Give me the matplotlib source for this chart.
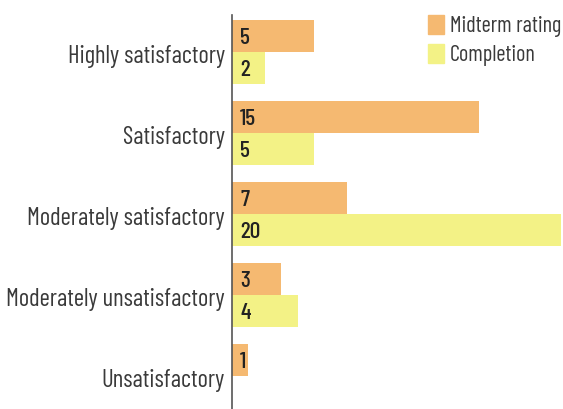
import matplotlib
matplotlib.use("Agg")
import matplotlib.pyplot as plt
from matplotlib.patches import Patch
import numpy as np

categories = ["Highly satisfactory", "Satisfactory", "Moderately satisfactory",
              "Moderately unsatisfactory", "Unsatisfactory"]
midterm = [5, 15, 7, 3, 1]
completion = [2, 5, 20, 4, 0]
series_names = ["Midterm rating", "Completion"]

plt.rcParams['font.family'] = ['Barlow Condensed', 'DejaVu Sans']

c_mid = "#F5B971"
c_comp = "#F3F286"

fig = plt.figure(figsize=(5.63, 4.09), dpi=100)
ax = fig.add_axes([232/563, 0.0, (561-232)/563, (409-15)/409])

y = np.arange(len(categories))
h = 0.395
ax.barh(y - h/2, midterm, height=h, color=c_mid, label=series_names[0])
ax.barh(y + h/2, completion, height=h, color=c_comp, label=series_names[1])

for yi, v in zip(y, midterm):
    if v > 0:
        ax.text(0.5, yi - h/2 + 0.03, str(v), va="center", ha="left", fontsize=17,
                fontweight="medium", color="#222222")
for yi, v in zip(y, completion):
    if v > 0:
        ax.text(0.5, yi + h/2 + 0.03, str(v), va="center", ha="left", fontsize=17,
                fontweight="medium", color="#222222")

ax.set_xlim(0, 20)
ax.set_ylim(len(categories) - 1 + 0.41, -0.457)
# invisible ticks, nudged slightly so labels sit as in the reference
ax.set_yticks(y + 0.06)
ax.set_yticklabels(categories, fontsize=17.8, color="#3a3a3a", fontweight="normal")
for t in ax.get_yticklabels():
    t.set_verticalalignment("center")
ax.tick_params(axis="y", length=0, pad=5)
ax.set_xticks([])
for s in ["top", "right", "bottom"]:
    ax.spines[s].set_visible(False)
ax.spines["left"].set_color("#555555")
ax.spines["left"].set_linewidth(1.2)

handles = [Patch(color=c_mid), Patch(color=c_comp)]
leg = ax.legend(handles, series_names, loc="upper right", bbox_to_anchor=(1.0, 1.0),
                frameon=False, handlelength=0.68, handleheight=0.95,
                handletextpad=0.28, labelspacing=0.3, borderaxespad=0, borderpad=0,
                prop={'weight': 'normal', 'size': 16})
for t in leg.get_texts():
    t.set_color("#3a3a3a")

fig.savefig("out.png", dpi=100)
